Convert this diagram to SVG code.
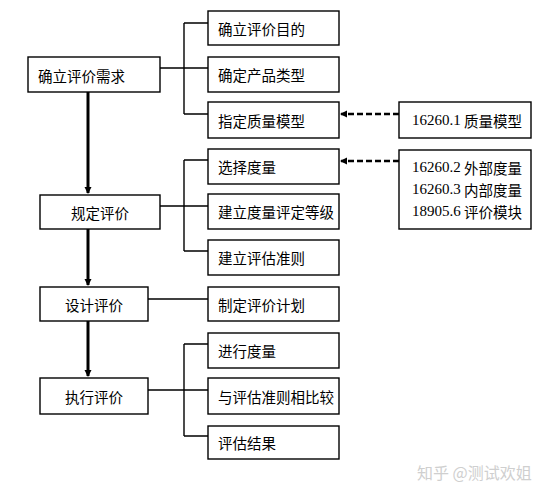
<svg xmlns="http://www.w3.org/2000/svg" width="550" height="497" viewBox="0 0 550 497">
<style>
.box{fill:#fff;stroke:#000;stroke-width:1.4}
.t{font-family:"Noto Sans CJK SC",sans-serif;font-size:14.5px;fill:#000;dominant-baseline:central}
.d{font-family:"Liberation Serif",serif;font-size:15px}
.ln{fill:none;stroke:#000;stroke-width:1.4}
.thick{fill:none;stroke:#000;stroke-width:3}
.dash{fill:none;stroke:#000;stroke-width:2.5;stroke-dasharray:6,3}
.wm{font-family:"Noto Sans CJK SC",sans-serif;font-size:16px;fill:#cfcfcf;dominant-baseline:central}
</style>
<defs>
<marker id="ah" markerWidth="8" markerHeight="8" refX="6" refY="4" orient="auto" markerUnits="userSpaceOnUse">
<path d="M0,0.5 L7,4 L0,7.5 Z" fill="#000"/>
</marker>
</defs>
<rect width="550" height="497" fill="#fff"/>
<g id="connectors">
<path class="ln" d="M160,68 H184 M184,23 V114 M184,23 H208 M184,114 H208 M184,68 H208"/>
<path class="ln" d="M160,206 H184 M184,160 V251 M184,160 H208 M184,251 H208 M184,206 H208"/>
<path class="ln" d="M148,299 H208"/>
<path class="ln" d="M148,390 H184 M184,344 V436 M184,344 H208 M184,436 H208 M184,390 H208"/>
<path class="thick" d="M88,92 V193" marker-end="url(#ah)"/>
<path class="thick" d="M88,229 V285" marker-end="url(#ah)"/>
<path class="thick" d="M88,321 V376" marker-end="url(#ah)"/>
<path class="dash" d="M399,114 H341" marker-end="url(#ah)"/>
<path class="dash" d="M399,161 H341" marker-end="url(#ah)"/>
</g>
<g id="n-need"><rect class="box" x="28" y="57" width="132" height="35"/><text class="t" x="38" y="75">确立评价需求</text></g>
<g id="n-spec"><rect class="box" x="40" y="195" width="120" height="34"/><text class="t" x="100" y="212" text-anchor="middle">规定评价</text></g>
<g id="n-design"><rect class="box" x="40" y="287" width="108" height="34"/><text class="t" x="94" y="304" text-anchor="middle">设计评价</text></g>
<g id="n-exec"><rect class="box" x="40" y="378" width="108" height="36"/><text class="t" x="94" y="396" text-anchor="middle">执行评价</text></g>
<g id="n-r1"><rect class="box" x="208" y="11" width="131" height="34"/><text class="t" x="218" y="28">确立评价目的</text></g>
<g id="n-r2"><rect class="box" x="208" y="57" width="131" height="35"/><text class="t" x="218" y="74.5">确定产品类型</text></g>
<g id="n-r3"><rect class="box" x="208" y="102" width="131" height="36"/><text class="t" x="218" y="120">指定质量模型</text></g>
<g id="n-r4"><rect class="box" x="208" y="149" width="131" height="35"/><text class="t" x="218" y="166.5">选择度量</text></g>
<g id="n-r5"><rect class="box" x="208" y="194" width="131" height="35"/><text class="t" x="218" y="211">建立度量评定等级</text></g>
<g id="n-r6"><rect class="box" x="208" y="240" width="131" height="35"/><text class="t" x="218" y="257.5">建立评估准则</text></g>
<g id="n-r7"><rect class="box" x="208" y="287" width="131" height="34"/><text class="t" x="218" y="304">制定评价计划</text></g>
<g id="n-r8"><rect class="box" x="208" y="333" width="131" height="35"/><text class="t" x="218" y="350.5">进行度量</text></g>
<g id="n-r9"><rect class="box" x="208" y="378" width="131" height="36"/><text class="t" x="218" y="396">与评估准则相比较</text></g>
<g id="n-r10"><rect class="box" x="208" y="426" width="131" height="33"/><text class="t" x="218" y="442.5">评估结果</text></g>
<g id="n-s1"><rect class="box" x="399" y="102" width="132" height="36"/><text class="t" x="412" y="120"><tspan class="d">16260.1</tspan> 质量模型</text></g>
<g id="n-s2"><rect class="box" x="399" y="150" width="132" height="79"/>
<text class="t" x="412" y="167"><tspan class="d">16260.2</tspan> 外部度量</text>
<text class="t" x="412" y="189"><tspan class="d">16260.3</tspan> 内部度量</text>
<text class="t" x="412" y="211"><tspan class="d">18905.6</tspan> 评价模块</text></g>
<text class="wm" x="417" y="472">知乎 @测试欢姐</text>
</svg>
